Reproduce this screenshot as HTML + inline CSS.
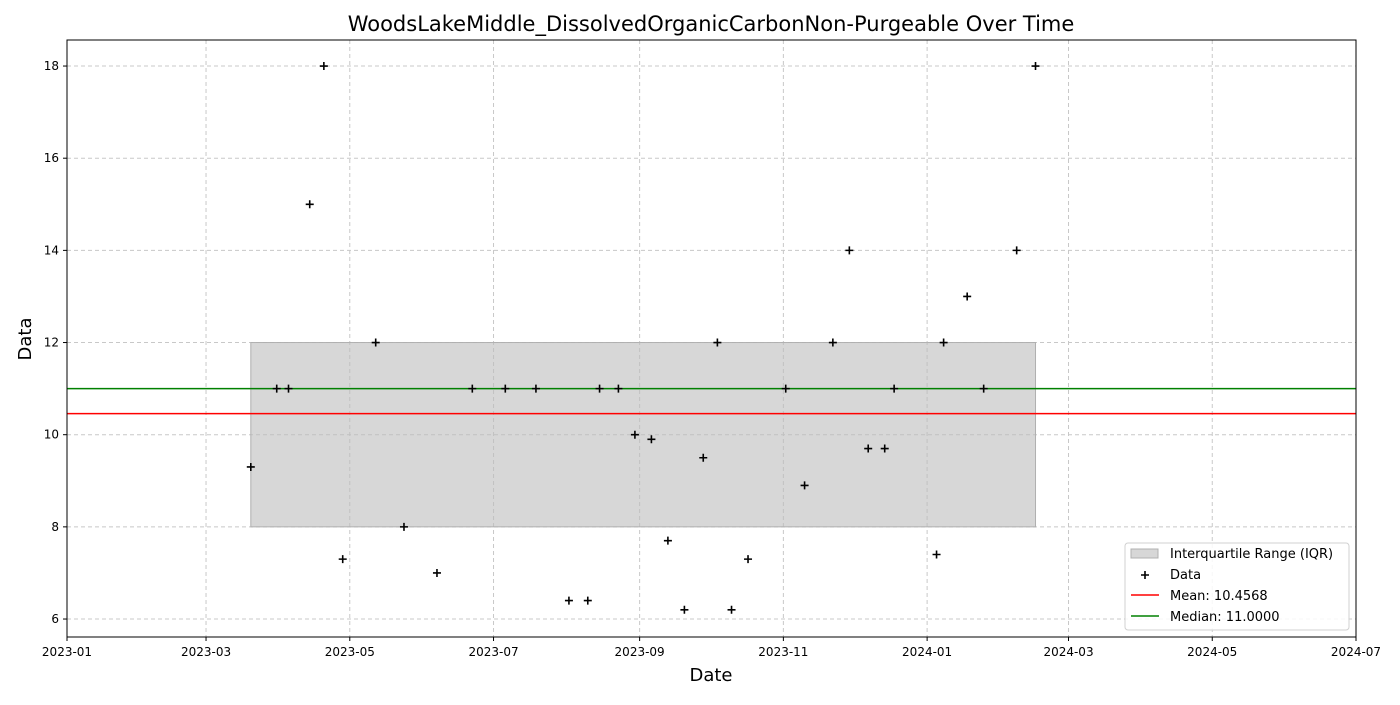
<!DOCTYPE html>
<html><head><meta charset="utf-8"><style>
body{margin:0;background:#fff;}
svg text{font-family:"DejaVu Sans","Liberation Sans",sans-serif;}
</style></head><body>
<svg id="chart" width="1400" height="700" xmlns="http://www.w3.org/2000/svg"></svg>
<script>
const dates=["2023-03-20","2023-03-31","2023-04-05","2023-04-14","2023-04-20","2023-04-28","2023-05-12","2023-05-24","2023-06-07","2023-06-22","2023-07-06","2023-07-19","2023-08-02","2023-08-10","2023-08-15","2023-08-23","2023-08-30","2023-09-06","2023-09-13","2023-09-20","2023-09-28","2023-10-04","2023-10-10","2023-10-17","2023-11-02","2023-11-10","2023-11-22","2023-11-29","2023-12-07","2023-12-14","2023-12-18","2024-01-05","2024-01-08","2024-01-18","2024-01-25","2024-02-08","2024-02-16"];
const values=[9.3,11,11,15,18,7.3,12,8,7,11,11,11,6.4,6.4,11,11,10,9.9,7.7,6.2,9.5,12,6.2,7.3,11,8.9,12,14,9.7,9.7,11,7.4,12,13,11,14,18];
const xTicks=["2023-01","2023-03","2023-05","2023-07","2023-09","2023-11","2024-01","2024-03","2024-05","2024-07"];
const yTicks=[6,8,10,12,14,16,18];
const meanVal=10.4568, medianVal=11.0, q1=8, q3=12;

const svg=document.getElementById('chart');const NS="http://www.w3.org/2000/svg";
const L=67,R=1356,T=40,B=637;
const x0=Date.parse("2023-01-01"),x1=Date.parse("2024-07-01");
const yMin=5.61,yMax=18.565;
const sx=d=>L+(Date.parse(d.length==7?d+"-01":d)-x0)/(x1-x0)*(R-L);
const sy=v=>B-(v-yMin)/(yMax-yMin)*(B-T);
function el(t,a,txt){const e=document.createElementNS(NS,t);for(const k in a)e.setAttribute(k,a[k]);if(txt!=null)e.textContent=txt;svg.appendChild(e);return e;}
// grid
xTicks.forEach(t=>{const X=sx(t);
const g=el('line',{x1:X,x2:X,y1:T,y2:B,stroke:'#c8c8c8','stroke-dasharray':'4,3'});

el('line',{x1:X,x2:X,y1:B,y2:B+4,stroke:'#000'});
const tx=el('text',{x:X,y:B+19,'text-anchor':'middle','font-size':12},t);
});
yTicks.forEach(v=>{const Y=sy(v);
const g=el('line',{x1:L,x2:R,y1:Y,y2:Y,stroke:'#c8c8c8','stroke-dasharray':'4,3'});

el('line',{x1:L-4,x2:L,y1:Y,y2:Y,stroke:'#000'});
const tx=el('text',{x:L-8,y:Y+4,'text-anchor':'end','font-size':12},v);
});
// IQR
const iqr=el('rect',{x:sx(dates[0]),y:sy(q3),width:sx(dates[dates.length-1])-sx(dates[0]),height:sy(q1)-sy(q3),fill:'#bdbdbd','fill-opacity':0.6,stroke:'#b0b0b0'});

const ml=el('line',{x1:L,x2:R,y1:sy(meanVal),y2:sy(meanVal),stroke:'#ff0000','stroke-width':1.5});

const md=el('line',{x1:L,x2:R,y1:sy(medianVal),y2:sy(medianVal),stroke:'#008000','stroke-width':1.5});

dates.forEach((d,i)=>{const X=sx(d),Y=sy(values[i]);
const p=el('path',{d:`M${X-4},${Y}H${X+4}M${X},${Y-4}V${Y+4}`,stroke:'#000','stroke-width':1.6});
});
const fr=el('rect',{x:L,y:T,width:R-L,height:B-T,fill:'none',stroke:'#000'});

const ti=el('text',{x:711,y:31,'text-anchor':'middle','font-size':21},'WoodsLakeMiddle_DissolvedOrganicCarbonNon-Purgeable Over Time');

const xl=el('text',{x:711,y:681,'text-anchor':'middle','font-size':18},'Date');

const yl=el('text',{x:31,y:339,'text-anchor':'middle','font-size':18,transform:'rotate(-90 31 339)'},'Data');

// legend
const lg=el('rect',{x:1125,y:543,width:224,height:87,rx:3,fill:'#fff','fill-opacity':0.85,stroke:'#d0d0d0'});

el('rect',{x:1131,y:549,width:27,height:9,fill:'#bdbdbd','fill-opacity':0.6,stroke:'#b0b0b0'});
el('path',{d:'M1141,575H1149M1145,571V579',stroke:'#000','stroke-width':1.6});
el('line',{x1:1131,x2:1159,y1:595,y2:595,stroke:'#ff0000','stroke-width':1.5});
el('line',{x1:1131,x2:1159,y1:616,y2:616,stroke:'#008000','stroke-width':1.5});
[["Interquartile Range (IQR)",558],["Data",579],["Mean: 10.4568",600],["Median: 11.0000",621]].forEach(([t,y])=>{
const e=el('text',{x:1170,y:y,'font-size':13},t);
});
</script>
</body></html>
